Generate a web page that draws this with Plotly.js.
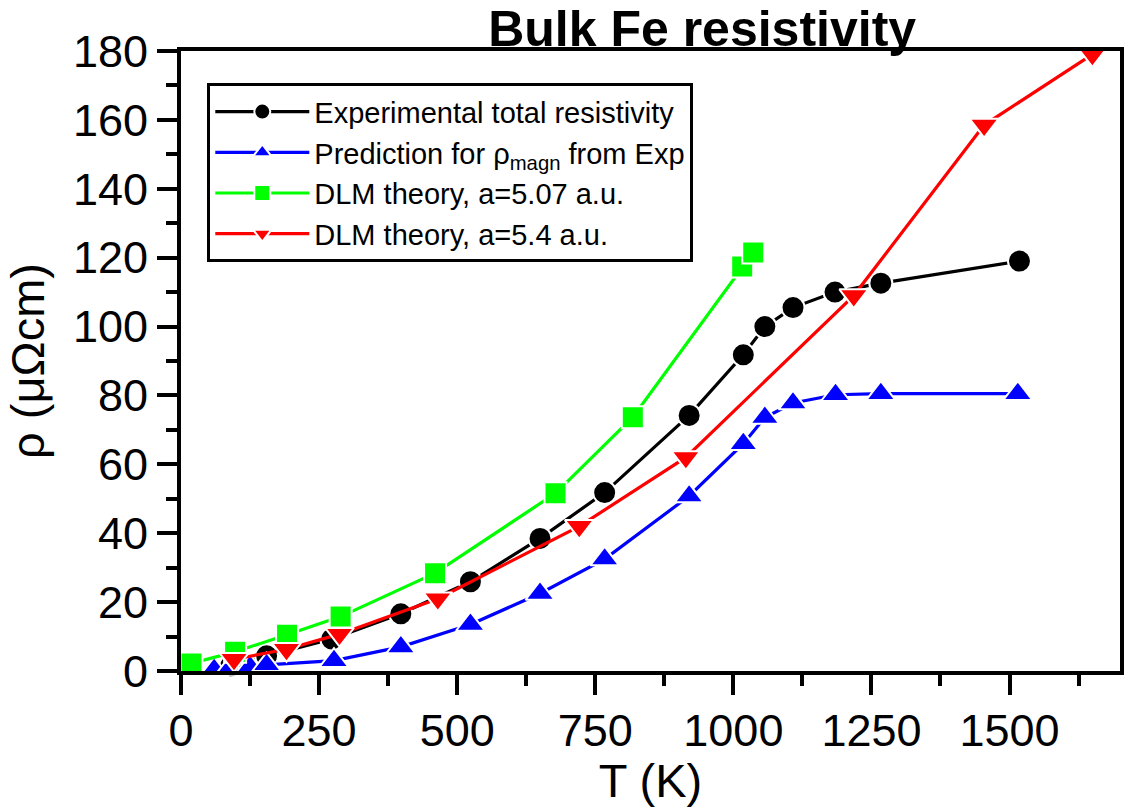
<!DOCTYPE html>
<html>
<head>
<meta charset="utf-8">
<script src="https://cdn.plot.ly/plotly-3.0.1.min.js"></script>
<style>html,body{margin:0;padding:0;background:#fff;}#chart{width:1124px;height:807px;}</style>
</head>
<body>
<div id="chart"></div>
<script>
// Experimental total resistivity
const T_exp   = [90, 155, 273, 398, 524, 650, 767, 920, 1018, 1057, 1108, 1184, 1267, 1518];
const rho_exp = [1.5, 4.4, 9.3, 16.6, 25.9, 38.5, 51.8, 74.2, 91.8, 100.0, 105.5, 110.0, 112.6, 119.0];
// Prediction for rho_magn from Exp
const T_mag   = [60, 88, 125, 155, 277, 398, 524, 650, 767, 920, 1018, 1057, 1108, 1185, 1267, 1515];
const rho_mag = [0.4, 0.7, 1.2, 1.8, 3.0, 7.0, 13.5, 22.5, 32.5, 50.8, 66.0, 73.6, 77.8, 80.2, 80.5, 80.5];
// DLM theory, a=5.07 a.u.
const T_507   = [19, 98, 192, 289, 460, 678, 818, 1016, 1036];
const rho_507 = [2.2, 5.6, 10.5, 15.8, 28.4, 51.6, 73.7, 117.4, 121.5];
// DLM theory, a=5.4 a.u.
const T_54    = [96, 191, 287, 465, 721, 914, 1218, 1454, 1650];
const rho_54  = [3.4, 6.3, 10.7, 21.0, 42.0, 62.0, 109.0, 158.5, 179.0];

const names = ['Experimental total resistivity', 'Prediction for ρ<sub>magn</sub> from Exp',
               'DLM theory, a=5.07 a.u.', 'DLM theory, a=5.4 a.u.'];
const xTicks = [0, 250, 500, 750, 1000, 1250, 1500];
const yTicks = [0, 20, 40, 60, 80, 100, 120, 140, 160, 180];

function tr(x, y, name, color, symbol, size, grp) {
  return {
    x: x, y: y, name: name, type: 'scatter', mode: 'lines+markers',
    line: {color: color, width: 3.2},
    marker: {color: color, symbol: symbol, size: size, line: {color: '#ffffff', width: 2}},
    cliponaxis: false, legendgroup: grp
  };
}

const data = [
  tr(T_exp, rho_exp, names[0], '#000000', 'circle', 23, 'a'),
  tr(T_mag, rho_mag, names[1], '#0000ff', 'triangle-up', 25, 'b'),
  tr(T_507, rho_507, names[2], '#00ff00', 'square', 22, 'c'),
  tr(T_54, rho_54, names[3], '#ff0000', 'triangle-down', 25, 'd')
];

const F = 'Liberation Sans, Arial, sans-serif';
const axisBase = {
  showline: true, linewidth: 4, linecolor: '#000', mirror: true,
  ticks: 'outside', ticklen: 20, tickwidth: 4, tickcolor: '#000',
  showgrid: false, zeroline: false,
  tickfont: {family: F, size: 45, color: '#000'}
};

const layout = {
  width: 1124, height: 807,
  margin: {l: 181, r: 4, t: 51, b: 136},
  paper_bgcolor: '#fff', plot_bgcolor: '#fff',
  title: {text: '<b>Bulk Fe resistivity</b>', font: {family: F, size: 50, color: '#000'},
          x: 0.555, xref: 'paper', xanchor: 'center', y: 0.965, yref: 'container', yanchor: 'middle'},
  xaxis: Object.assign({}, axisBase, {
    range: [0, 1700], tickmode: 'array', tickvals: xTicks, ticktext: xTicks.map(String),
    ticklabelstandoff: -3,
    minor: {ticks: 'outside', ticklen: 11, tickwidth: 4, tickcolor: '#000', dtick: 125, tick0: 0},
    title: {text: 'T (K)', font: {family: F, size: 47, color: '#000'}, standoff: 6}
  }),
  yaxis: Object.assign({}, axisBase, {
    range: [0, 180], tickmode: 'array', tickvals: yTicks, ticktext: yTicks.map(String),
    ticklabelstandoff: 0,
    minor: {ticks: 'outside', ticklen: 11, tickwidth: 4, tickcolor: '#000', dtick: 10, tick0: 0},
    title: {text: 'ρ (μΩcm)', font: {family: F, size: 47, color: '#000'}, standoff: 14}
  }),
  showlegend: true,
  legend: {
    x: 0.028, y: 0.948, xanchor: 'left', yanchor: 'top',
    bordercolor: '#000', borderwidth: 3, bgcolor: '#fff',
    font: {family: F, size: 29, color: '#000'},
    tracegroupgap: 0, itemwidth: 94
  }
};

Plotly.newPlot('chart', data, layout, {displayModeBar: false, staticPlot: true});
</script>
</body>
</html>
